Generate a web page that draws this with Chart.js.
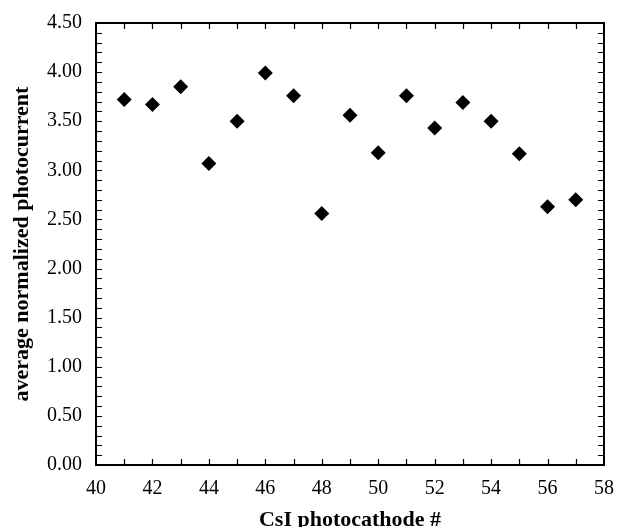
<!DOCTYPE html>
<html>
<head>
<meta charset="utf-8">
<script src="https://cdn.jsdelivr.net/npm/chart.js@4.4.0/dist/chart.umd.min.js"></script>
<style>
  html, body { margin: 0; padding: 0; background: #fff; }
  #wrap { width: 617px; height: 527px; }
</style>
</head>
<body>
<div id="wrap"><canvas id="chart" width="617" height="527"></canvas></div>
<script>
// photocathode number vs. its average normalized photocurrent
const photocathodes = [41, 42, 43, 44, 45, 46, 47, 48, 49, 50, 51, 52, 53, 54, 55, 56, 57];
const photocurrent = [3.72, 3.67, 3.85, 3.07, 3.50, 3.99, 3.76, 2.56, 3.56, 3.18, 3.76, 3.43, 3.69, 3.50, 3.17, 2.63, 2.70];

const xRange = [40, 58];
const yRange = [0, 4.5];
const xLabelStep = 2;
const yLabelStep = 0.5;
const xMinorStep = 1;
const yMinorStep = 0.1;

const serif = "'Liberation Serif', 'Times New Roman', serif";

// box around the plot with short tick marks pointing inward on all four sides
const boxedTicks = {
  id: "boxedTicks",
  afterDraw(chart) {
    const { ctx, chartArea: a, scales } = chart;
    const len = 6;
    ctx.save();
    ctx.strokeStyle = "#000";
    ctx.lineWidth = 1.2;
    ctx.beginPath();
    const nx = Math.round((xRange[1] - xRange[0]) / xMinorStep);
    for (let i = 1; i < nx; i++) {
      const px = Math.round(scales.x.getPixelForValue(xRange[0] + i * xMinorStep)) + 0.5;
      ctx.moveTo(px, a.bottom); ctx.lineTo(px, a.bottom - len);
      ctx.moveTo(px, a.top); ctx.lineTo(px, a.top + len);
    }
    const ny = Math.round((yRange[1] - yRange[0]) / yMinorStep);
    for (let i = 1; i < ny; i++) {
      const py = Math.round(scales.y.getPixelForValue(yRange[0] + i * yMinorStep)) + 0.5;
      ctx.moveTo(a.left, py); ctx.lineTo(a.left + len, py);
      ctx.moveTo(a.right, py); ctx.lineTo(a.right - len, py);
    }
    ctx.stroke();
    ctx.lineWidth = 2;
    ctx.strokeRect(a.left, a.top, a.right - a.left, a.bottom - a.top);
    ctx.restore();
  }
};

new Chart(document.getElementById("chart").getContext("2d"), {
  type: "scatter",
  data: {
    datasets: [{
      label: "photocurrent",
      data: photocathodes.map((n, i) => ({ x: n, y: photocurrent[i] })),
      pointStyle: "rectRot",
      pointRadius: 7.5,
      pointHoverRadius: 7.5,
      backgroundColor: "#000",
      borderColor: "#000",
      borderWidth: 0
    }]
  },
  plugins: [boxedTicks],
  options: {
    responsive: false,
    animation: false,
    layout: { padding: { top: 23, right: 13, left: 0, bottom: 0 } },
    plugins: { legend: { display: false }, tooltip: { enabled: false } },
    scales: {
      x: {
        type: "linear",
        min: xRange[0],
        max: xRange[1],
        afterFit: s => { s.height = 62; s.paddingLeft = 0; s.paddingRight = 0; },
        grid: { display: false, drawTicks: false },
        border: { display: false },
        ticks: { stepSize: xLabelStep, color: "#000", padding: 12, font: { family: serif, size: 20 } },
        title: {
          display: true,
          text: "CsI photocathode #",
          color: "#000",
          font: { family: serif, size: 22, weight: "bold" },
          padding: { top: 0, bottom: -7 }
        }
      },
      y: {
        type: "linear",
        min: yRange[0],
        max: yRange[1],
        afterFit: s => { s.width = 96; s.paddingTop = 0; s.paddingBottom = 0; },
        grid: { display: false, drawTicks: false },
        border: { display: false },
        ticks: {
          stepSize: yLabelStep,
          color: "#000",
          padding: 14,
          font: { family: serif, size: 20 },
          callback: v => v.toFixed(2)
        },
        title: {
          display: true,
          text: "average normalized photocurrent",
          color: "#000",
          font: { family: serif, size: 22, weight: "bold" },
          padding: { top: 9, bottom: 0 }
        }
      }
    }
  }
});
</script>
</body>
</html>
